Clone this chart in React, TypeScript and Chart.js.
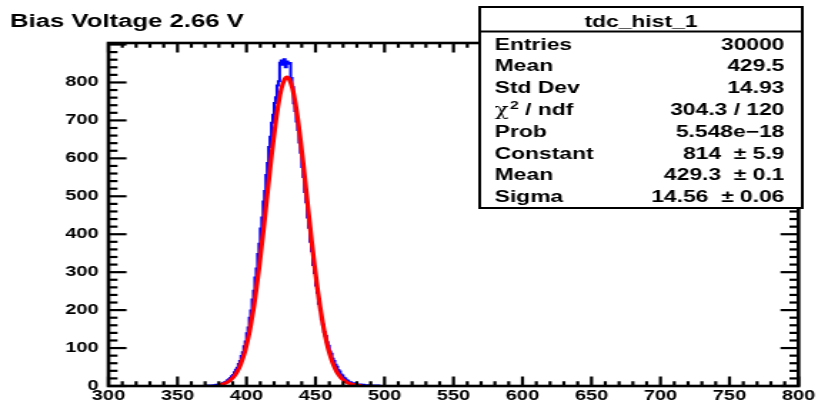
import React, { useEffect, useRef } from "react";
import { Chart, registerables } from "chart.js";

Chart.register(...registerables);

// ---------- data ----------
const TITLE = "Bias Voltage 2.66 V";
const HIST_NAME = "tdc_hist_1";
const X_MIN = 300;
const X_MAX = 800;
const Y_MAX = 904;
const X_TICKS = [300, 350, 400, 450, 500, 550, 600, 650, 700, 750, 800];
const Y_TICKS = [0, 100, 200, 300, 400, 500, 600, 700, 800];
const X_MINOR_STEP = 10;
const X_MAJOR_STEP = 50;
const Y_MINOR_STEP = 20;
const Y_MAJOR_STEP = 100;

// histogram: 1-unit bins starting at BIN_START
const BIN_START = 370;
const COUNTS = [
  0, 0, 1, 0, 1, 1, 1, 2, 2, 3, // 370-379
  3, 4, 5, 6, 8, 10, 11, 15, 18, 21, // 380-389
  26, 29, 36, 43, 48, 58, 66, 79, 89, 105, // 390-399
  117, 139, 154, 180, 199, 228, 251, 286, 310, 348, // 400-409
  375, 415, 444, 486, 514, 556, 588, 630, 657, 694, // 410-419
  715, 746, 761, 792, 803, 852, 858, 847, 861, 840, // 420-429
  855, 849, 851, 812, 788, 745, 725, 697, 675, 642, // 430-439
  615, 577, 551, 511, 484, 444, 417, 380, 355, 319, // 440-449
  298, 265, 246, 217, 200, 176, 162, 142, 132, 115, // 450-459
  106, 91, 85, 72, 66, 56, 51, 42, 38, 30, // 460-469
  28, 22, 20, 15, 14, 10, 10, 7, 7, 5, // 470-479
  6, 4, 3, 4, 2, 3, 2, 1, 2, 1, // 480-489
  1, 0, 1, 1, 0, 0, 1, 0, 0, 0, // 490-499
];

// gaussian fit curve samples
const FIT_X = [
  379.3, 381.3, 383.3, 385.3, 387.3, 389.3, 391.3, 393.3, 395.3, 397.3,
  399.3, 401.3, 403.3, 405.3, 407.3, 409.3, 411.3, 413.3, 415.3, 417.3,
  419.3, 421.3, 423.3, 425.3, 427.3, 429.3, 431.3, 433.3, 435.3, 437.3,
  439.3, 441.3, 443.3, 445.3, 447.3, 449.3, 451.3, 453.3, 455.3, 457.3,
  459.3, 461.3, 463.3, 465.3, 467.3, 469.3, 471.3, 473.3, 475.3, 477.3,
  479.3, 481.3, 483.3,
];
const FIT_Y = [
  2.2, 3.6, 5.5, 8.5, 12.7, 18.7, 27, 38, 53, 73,
  97, 128, 165, 209, 260, 317, 379, 445, 513, 580,
  643, 700, 748, 784, 806, 814, 806, 784, 748, 700,
  643, 580, 513, 445, 379, 317, 260, 209, 165, 128,
  97, 73, 53, 38, 27, 18.7, 12.7, 8.5, 5.5, 3.6,
  2.2, 1.4, 0.8,
];

const STATS_LABELS = ["Entries", "Mean", "Std Dev", "CHI2", "Prob", "Constant", "Mean", "Sigma"];
const STATS_VALUES = [
  "30000",
  "429.5",
  "14.93",
  "304.3 / 120",
  "5.548e\u221218",
  "814  \u00b1 5.9",
  "429.3  \u00b1 0.1",
  "14.56  \u00b1 0.06",
];

// ---------- rendering ----------
const CANVAS_W = 573;
const CANVAS_H = 409;
const CSS_W = 818;
const CSS_H = 409;
const FONT = "'Liberation Sans', Arial, Helvetica, sans-serif";

const rootStyle = {
  id: "rootStyle",
  afterDraw(chart: any) {
    const { ctx, chartArea: a, scales } = chart;
    const xs = scales.x;
    const ys = scales.y;
    ctx.save();
    ctx.strokeStyle = "#000";
    ctx.lineWidth = 2.2;
    ctx.lineCap = "butt";
    const seg = (x1: number, y1: number, x2: number, y2: number) => {
      ctx.beginPath();
      ctx.moveTo(x1, y1);
      ctx.lineTo(x2, y2);
      ctx.stroke();
    };
    // x ticks (bottom and top, inside)
    for (let v = X_MIN; v <= X_MAX; v += X_MINOR_STEP) {
      const px = xs.getPixelForValue(v);
      const len = v % X_MAJOR_STEP === 0 ? 9.5 : 4.75;
      seg(px, a.bottom, px, a.bottom - len);
      seg(px, a.top, px, a.top + len);
    }
    // y ticks (left and right, inside)
    for (let v = 0; v <= Y_MAX; v += Y_MINOR_STEP) {
      const py = ys.getPixelForValue(v);
      const len = v % Y_MAJOR_STEP === 0 ? 12.6 : 6.3;
      seg(a.left, py, a.left + len, py);
      seg(a.right, py, a.right - len, py);
    }
    ctx.lineWidth = 2.6;
    ctx.strokeRect(a.left, a.top, a.right - a.left, a.bottom - a.top);

    // title
    ctx.fillStyle = "#000";
    ctx.font = `bold 18px ${FONT}`;
    ctx.textAlign = "left";
    ctx.textBaseline = "alphabetic";
    ctx.fillText(TITLE, 7, 27);

    // stats box
    const bl = 336, bt = 7, br = 562, bb = 208;
    ctx.fillStyle = "#fff";
    ctx.fillRect(bl, bt, br - bl, bb - bt);
    ctx.lineWidth = 2;
    ctx.strokeStyle = "#000";
    ctx.strokeRect(bl, bt, br - bl, bb - bt);
    seg(bl, 31.5, br, 31.5);
    ctx.fillStyle = "#000";
    ctx.font = `bold 16px ${FONT}`;
    ctx.textAlign = "center";
    ctx.fillText(HIST_NAME, (bl + br) / 2, 26.5);
    const lx = 346.5, rx = 549.5;
    STATS_LABELS.forEach((lab, i) => {
      const by = 49.5 + 21.8 * i;
      ctx.textAlign = "left";
      if (lab === "CHI2") {
        ctx.font = `16px 'DejaVu Serif', serif`;
        ctx.fillText("\u03c7", lx, by);
        const w1 = ctx.measureText("\u03c7").width;
        ctx.font = `bold 11px ${FONT}`;
        ctx.fillText("2", lx + w1 + 1, by - 6);
        const w2 = ctx.measureText("2").width;
        ctx.font = `bold 16px ${FONT}`;
        ctx.fillText(" / ndf", lx + w1 + w2 + 1, by);
      } else {
        ctx.font = `bold 16px ${FONT}`;
        ctx.fillText(lab, lx, by);
      }
      ctx.font = `bold 16px ${FONT}`;
      ctx.textAlign = "right";
      ctx.fillText(STATS_VALUES[i], rx, by);
    });
    ctx.restore();
  },
};

export default function App() {
  const ref = useRef<HTMLCanvasElement | null>(null);
  useEffect(() => {
    document.body.style.margin = "0";
    const canvas = ref.current;
    if (!canvas) return;
    const histPts: { x: number; y: number }[] = [];
    histPts.push({ x: X_MIN, y: 0 });
    COUNTS.forEach((c, k) => histPts.push({ x: BIN_START + k, y: c }));
    histPts.push({ x: BIN_START + COUNTS.length, y: 0 });
    histPts.push({ x: X_MAX, y: 0 });
    const fitPts = FIT_X.map((x, i) => ({ x, y: FIT_Y[i] }));

    const chart = new Chart(canvas, {
      type: "line",
      data: {
        datasets: [
          {
            data: histPts,
            borderColor: "rgb(0,0,255)",
            borderWidth: 2,
            stepped: "after",
            pointRadius: 0,
            fill: false,
            order: 1,
          },
          {
            data: fitPts,
            borderColor: "rgb(255,0,0)",
            borderWidth: 3.2,
            pointRadius: 0,
            cubicInterpolationMode: "monotone",
            fill: false,
            order: 0,
          },
        ],
      } as any,
      options: {
        responsive: false,
        maintainAspectRatio: false,
        devicePixelRatio: 1,
        animation: false,
        events: [],
        layout: { padding: { top: 43, right: 9, left: 0, bottom: 0 } },
        plugins: { legend: { display: false }, tooltip: { enabled: false }, title: { display: false } },
        scales: {
          x: {
            type: "linear",
            min: X_MIN,
            max: X_MAX,
            grid: { display: false, drawTicks: false },
            border: { display: false },
            afterBuildTicks: (s: any) => {
              s.ticks = X_TICKS.map((v) => ({ value: v }));
            },
            afterFit: (s: any) => {
              s.height = 23;
            },
            ticks: {
              autoSkip: false,
              maxRotation: 0,
              padding: 2,
              color: "#000",
              font: { family: FONT, size: 14, weight: "bold" },
              callback: (v: any) => String(v),
            },
          },
          y: {
            type: "linear",
            min: 0,
            max: Y_MAX,
            grid: { display: false, drawTicks: false },
            border: { display: false },
            afterBuildTicks: (s: any) => {
              s.ticks = Y_TICKS.map((v) => ({ value: v }));
            },
            afterFit: (s: any) => {
              s.width = 76;
            },
            ticks: {
              autoSkip: false,
              padding: 7,
              color: "#000",
              font: { family: FONT, size: 14, weight: "bold" },
              callback: (v: any) => String(v),
            },
          },
        },
      } as any,
      plugins: [rootStyle],
    });
    return () => chart.destroy();
  }, []);

  return (
    <canvas
      ref={ref}
      width={CANVAS_W}
      height={CANVAS_H}
      style={{ width: CSS_W + "px", height: CSS_H + "px", display: "block" }}
    />
  );
}
